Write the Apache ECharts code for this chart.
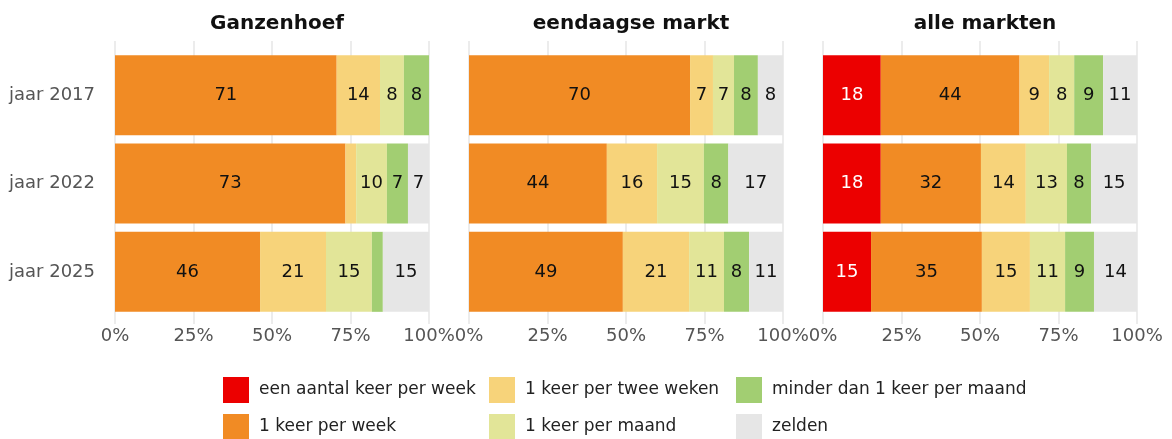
<!DOCTYPE html>
<html>
<head>
<meta charset="utf-8">
<script src="https://cdn.jsdelivr.net/npm/echarts@6/dist/echarts.min.js"></script>
<style>
  html, body { margin: 0; padding: 0; background: #fff; }
  #chart { width: 1172px; height: 439px; }
</style>
</head>
<body>
<div id="chart"></div>
<script>
  const years = ['jaar 2017', 'jaar 2022', 'jaar 2025'];
  const panelTitles = ['Ganzenhoef', 'eendaagse markt', 'alle markten'];
  const seriesNames = ['een aantal keer per week', '1 keer per week', '1 keer per twee weken',
    '1 keer per maand', 'minder dan 1 keer per maand', 'zelden'];
  const colors = ['#ec0000', '#f18b24', '#f7d37a', '#e2e598', '#a2ce72', '#e6e6e6'];

  // percentages per bar, in order of seriesNames
  const ganzenhoef2017 = [0, 70.6, 13.8, 7.6, 8.0, 0];
  const ganzenhoef2022 = [0, 73.4, 3.4, 9.8, 6.7, 6.7];
  const ganzenhoef2025 = [0, 46.2, 21.0, 14.6, 3.5, 14.7];
  const eendaags2017 = [0, 70.4, 7.3, 6.7, 7.6, 8.0];
  const eendaags2022 = [0, 43.9, 16.0, 14.9, 7.8, 17.4];
  const eendaags2025 = [0, 49.0, 21.1, 11.1, 8.0, 10.8];
  const alleMarkten2017 = [18.4, 44.2, 9.4, 8.0, 9.2, 10.8];
  const alleMarkten2022 = [18.4, 31.9, 14.3, 13.1, 7.7, 14.6];
  const alleMarkten2025 = [15.3, 35.3, 15.3, 11.2, 9.2, 13.7];

  const panels = [
    [ganzenhoef2017, ganzenhoef2022, ganzenhoef2025],
    [eendaags2017, eendaags2022, eendaags2025],
    [alleMarkten2017, alleMarkten2022, alleMarkten2025]
  ];

  const font = 'DejaVu Sans';
  const lefts = [115, 469, 823];
  const gridW = 314;
  const legendLefts = [223, 489, 736];
  const legendTops = [377, 414];

  let grids = [], xAxes = [], yAxes = [], series = [], titles = [], legends = [];
  panels.forEach((rows, p) => {
    grids.push({ left: lefts[p], width: gridW, top: 51, height: 265 });
    titles.push({
      text: panelTitles[p],
      left: lefts[p] + gridW / 2,
      top: 9,
      textAlign: 'center',
      textStyle: { fontFamily: font, fontSize: 20, fontWeight: 'bold', color: '#111' }
    });
    // bottom axis with labels
    xAxes.push({
      type: 'value', gridIndex: p, min: 0, max: 100, interval: 25,
      axisLine: { show: false },
      axisTick: { show: true, length: 8, lineStyle: { color: '#e6e6e6', width: 1.5 } },
      splitLine: { show: true, lineStyle: { color: '#e6e6e6', width: 1.5 } },
      axisLabel: { formatter: '{value}%', fontFamily: font, fontSize: 18, color: '#555', margin: 11 }
    });
    // top axis only to lengthen the grid lines
    xAxes.push({
      type: 'value', gridIndex: p, position: 'top', min: 0, max: 100, interval: 25,
      axisLine: { show: false },
      axisTick: { show: true, length: 10, lineStyle: { color: '#e6e6e6', width: 1.5 } },
      splitLine: { show: false },
      axisLabel: { show: false }
    });
    yAxes.push({
      type: 'category', gridIndex: p, data: years, inverse: true,
      axisLine: { show: false }, axisTick: { show: false },
      axisLabel: { show: p === 0, fontFamily: font, fontSize: 18, color: '#555', margin: 20 }
    });
    seriesNames.forEach((name, s) => {
      series.push({
        name: name,
        type: 'bar',
        stack: 'p' + p,
        xAxisIndex: p * 2,
        yAxisIndex: p,
        barWidth: 80,
        itemStyle: { color: colors[s] },
        label: {
          show: true,
          position: 'inside',
          fontFamily: font,
          fontSize: 18,
          color: s === 0 ? '#fff' : '#111',
          formatter: d => (d.value >= 5 ? Math.round(d.value) : '')
        },
        data: rows.map(r => r[s])
      });
    });
  });

  // legend: three columns of two entries, one legend per entry
  seriesNames.forEach((name, s) => {
    legends.push({
      data: [name],
      left: legendLefts[Math.floor(s / 2)],
      top: legendTops[s % 2],
      padding: 0,
      itemWidth: 26,
      itemHeight: 26,
      icon: 'rect',
      textStyle: { fontFamily: font, fontSize: 17, color: '#222', padding: [2, 0, 0, 5] }
    });
  });

  const chart = echarts.init(document.getElementById('chart'));
  chart.setOption({
    animation: false,
    title: titles,
    grid: grids,
    xAxis: xAxes,
    yAxis: yAxes,
    legend: legends,
    series: series
  });
</script>
</body>
</html>
